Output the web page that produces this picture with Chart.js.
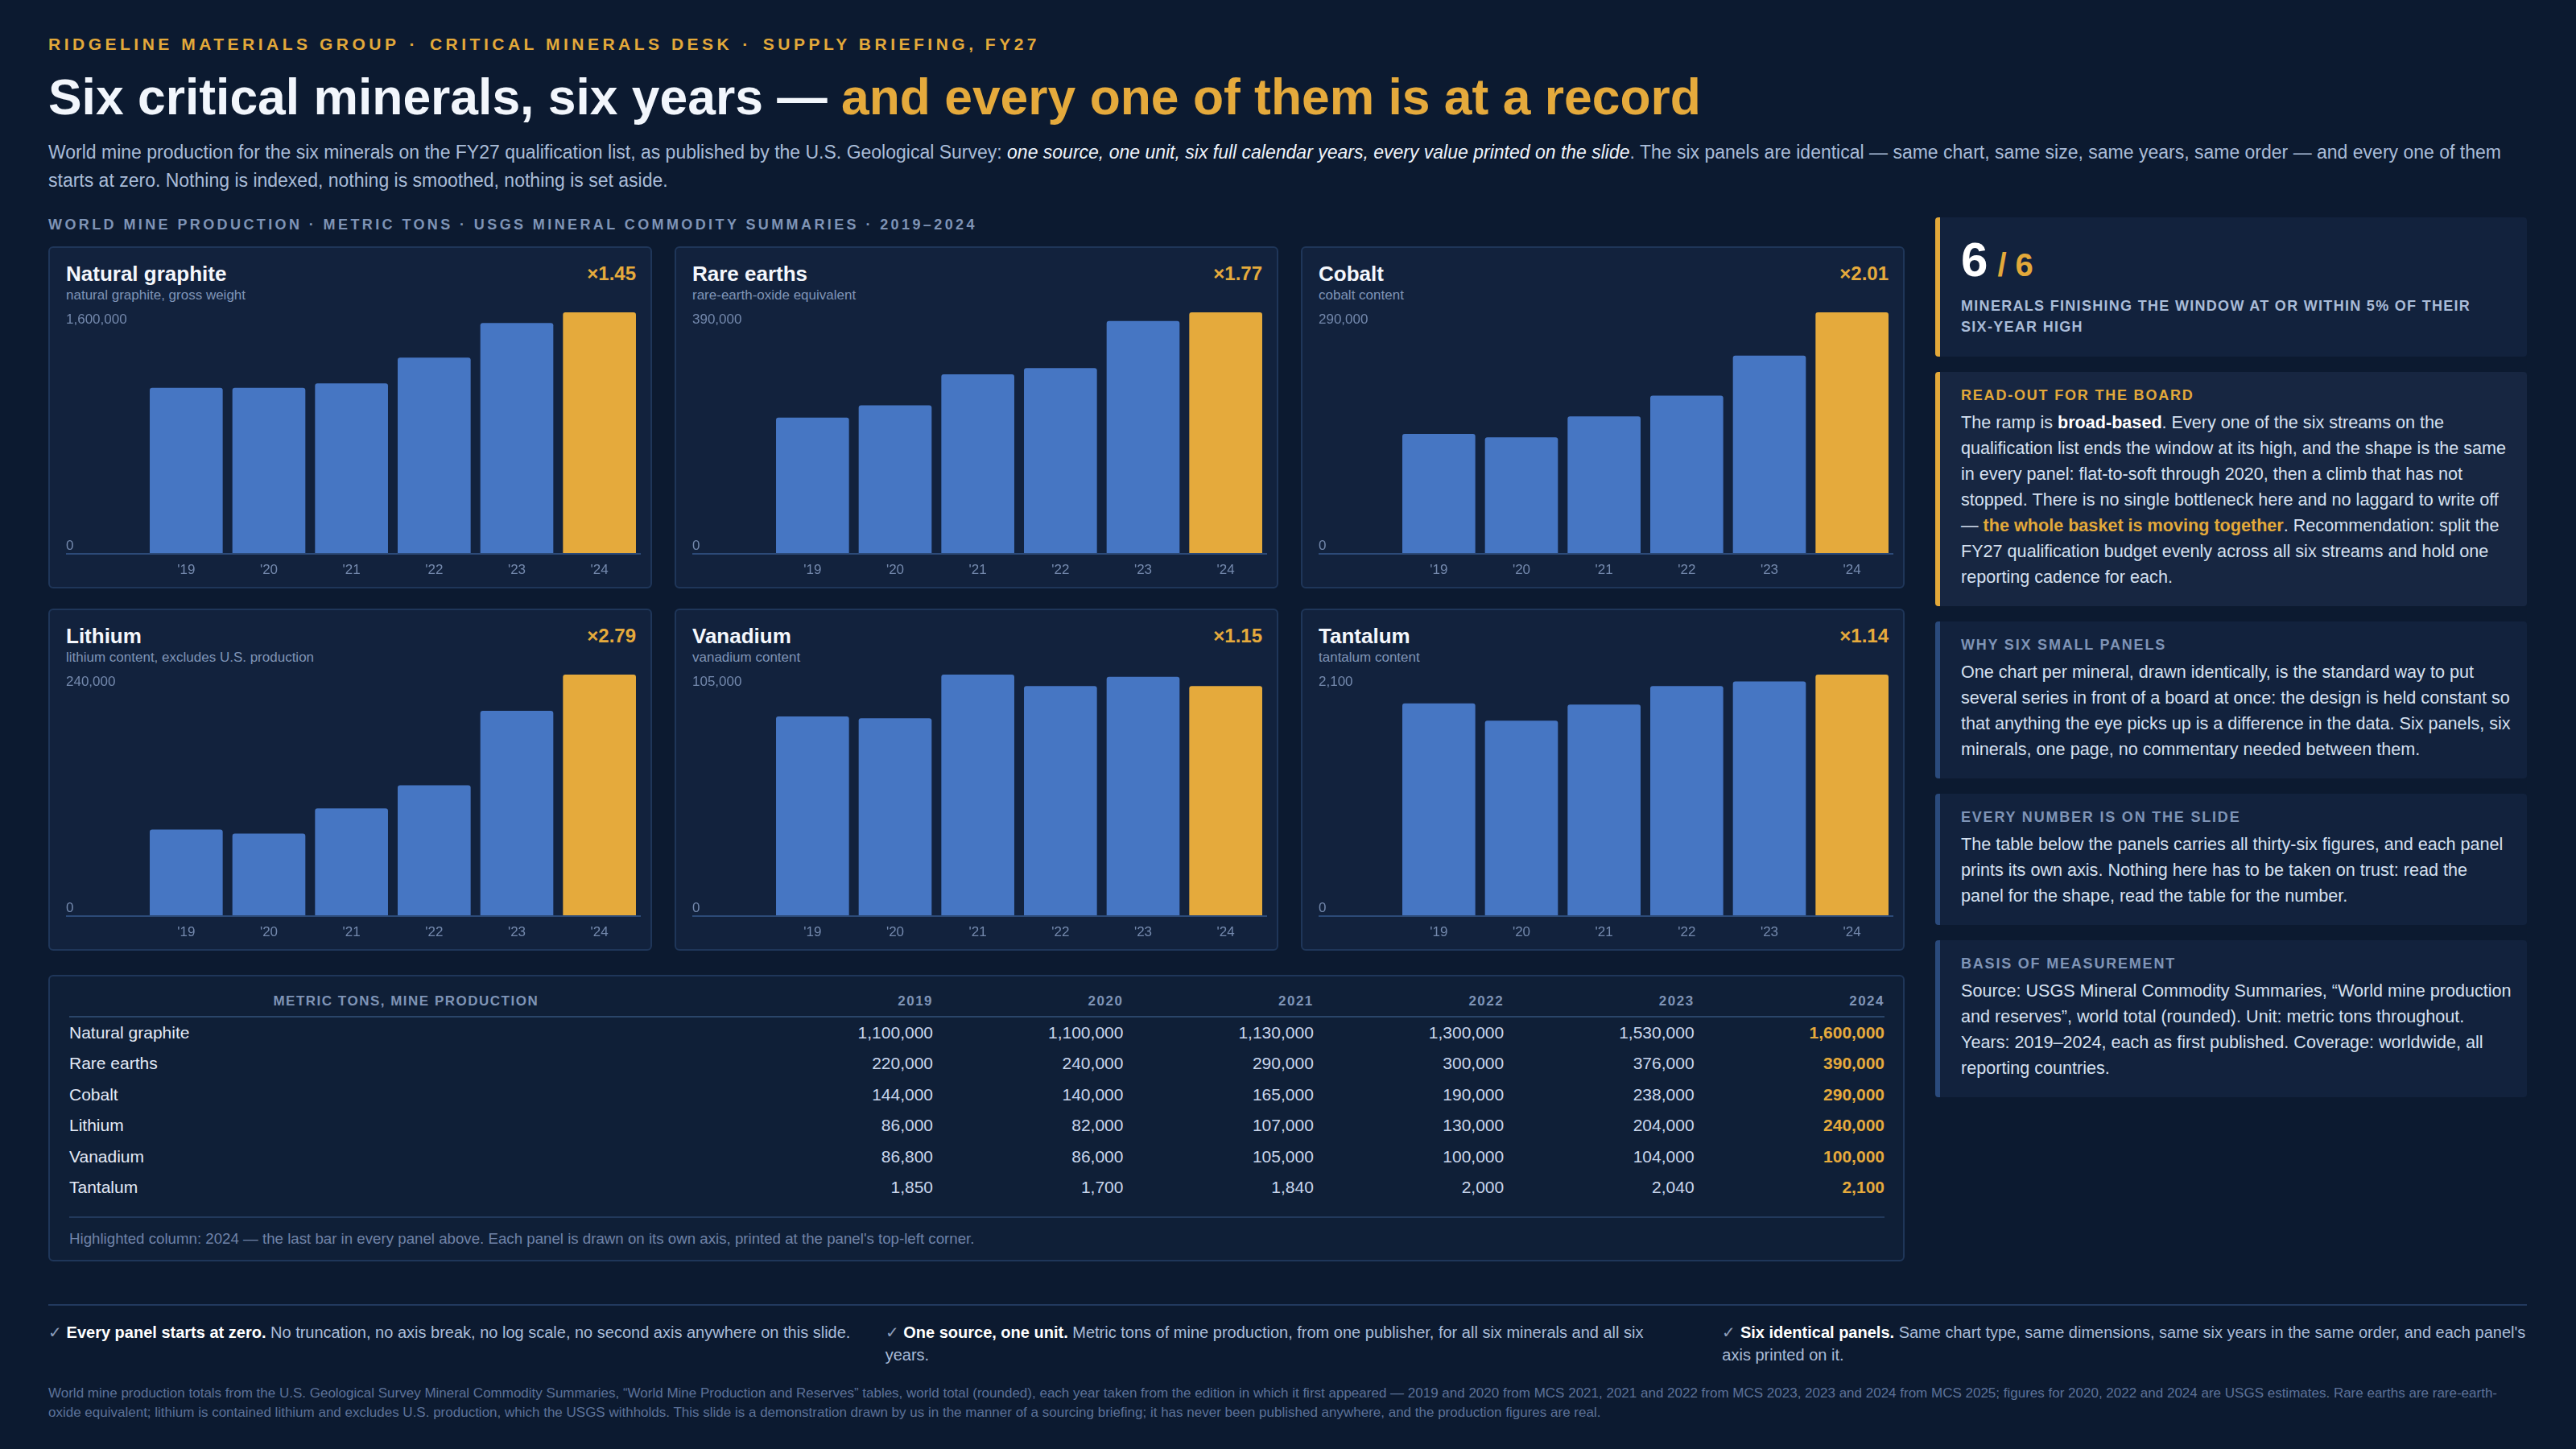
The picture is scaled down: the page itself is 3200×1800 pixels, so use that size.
<!DOCTYPE html>
<html lang="en">
<head>
<meta charset="utf-8">
<title>Six critical minerals, six years</title>
<script src="https://cdn.jsdelivr.net/npm/chart.js@4.4.1/dist/chart.umd.min.js"></script>
<style>
  * { box-sizing: border-box; margin: 0; padding: 0; }
  html, body { width: 3200px; height: 1800px; background: #0c1a30; overflow: hidden; }
  body { position: relative; font-family: "Liberation Sans", Arial, sans-serif; color: #e8eef8; }

  .kicker { position: absolute; left: 60px; top: 42px; font-size: 21px; line-height: 26px; font-weight: 700; letter-spacing: 4.5px; color: #e3a93a; }
  .kicker b { font-weight: 700; padding: 0 14px 0 12px; }
  h1 { position: absolute; left: 60px; top: 86px; font-size: 62.4px; line-height: 70px; font-weight: 700; color: #f2f6fc; }
  h1 span { color: #e5aa3c; }
  .lede { position: absolute; left: 60px; top: 172px; width: 3090px; font-size: 23px; line-height: 35px; color: #a9bcd8; }
  .lede em { color: #eef3fb; }
  .section { position: absolute; left: 60px; top: 268px; font-size: 18px; line-height: 22px; font-weight: 700; letter-spacing: 3.4px; color: #7f94b6; }

  .grid { position: absolute; left: 60px; top: 306px; display: grid; grid-template-columns: repeat(3, 750px); grid-template-rows: repeat(2, 425px); column-gap: 28px; row-gap: 25px; }
  .panel { position: relative; background: #12223d; border: 2px solid #1f3659; border-radius: 6px; }
  .panel .name { position: absolute; left: 20px; top: 17px; font-size: 26px; line-height: 30px; font-weight: 700; color: #f4f7fc; }
  .panel .basis { position: absolute; left: 20px; top: 49px; font-size: 17px; line-height: 20px; color: #7f94b6; }
  .panel .mult { position: absolute; right: 18px; top: 18px; font-size: 24px; line-height: 28px; font-weight: 700; color: #e5aa3c; }
  .panel .plot { position: absolute; left: 20px; top: 74px; width: 714px; height: 340px; }

  .tablebox { position: absolute; left: 60px; top: 1211px; width: 2306px; height: 356px; background: #0f1f37; border: 2px solid #1f3659; border-radius: 6px; padding: 18px 23px 0 24px; }
  table { width: 100%; border-collapse: collapse; table-layout: fixed; }
  th { font-size: 17px; line-height: 26px; font-weight: 700; letter-spacing: 1.5px; color: #7f94b6; padding: 0 0 5px; border-bottom: 2px solid #2a4569; text-align: right; }
  th:first-child { text-align: center; }
  td { font-size: 21px; line-height: 26px; padding: 6px 0 6.4px; color: #c9d6ec; text-align: right; }
  td:first-child { text-align: left; color: #e3eaf6; }
  td.hi { color: #e5aa3c; font-weight: 700; }
  .tnote { margin-top: 17px; border-top: 2px solid #22395c; padding-top: 14px; font-size: 18.7px; line-height: 24px; color: #7083a8; }

  .side { position: absolute; left: 2404px; top: 270px; width: 735px; display: flex; flex-direction: column; gap: 19px; }
  .card { background: #12223d; border-left: 6px solid #2a4a7c; border-radius: 4px; padding: 18px 19px 20px 26px; }
  .card.gold { border-left-color: #e3a93a; }
  .card.read { background: #172641; }
  .card.stat { padding: 23px 19px 24px 26px; }
  .big { height: 60px; font-size: 60px; line-height: 60px; font-weight: 700; color: #ffffff; white-space: nowrap; }
  .big span { font-size: 40px; line-height: 40px; color: #e3a93a; margin-left: 12px; }
  .statlabel { margin-top: 14px; font-size: 18px; line-height: 26px; font-weight: 700; letter-spacing: 1.3px; color: #a9bcd8; }
  .nowrap { white-space: nowrap; }
  .card h3 { font-size: 18px; line-height: 22px; font-weight: 700; letter-spacing: 1.8px; color: #7f94b6; }
  .card.read h3 { color: #e3a93a; }
  .card p { margin-top: 7px; font-size: 21.6px; line-height: 32px; color: #d5e0f0; }
  .card p b { color: #ffffff; }
  .card p b.gold { color: #e3a93a; }

  .rule { position: absolute; left: 60px; top: 1620px; width: 3079px; height: 2px; background: #22395e; }
  .checks { position: absolute; left: 60px; top: 1641px; width: 3079px; display: grid; grid-template-columns: repeat(3, 1fr); column-gap: 40px; font-size: 20px; line-height: 28px; color: #a9bcd8; }
  .checks i { font-style: normal; color: #8a9bb8; }
  .checks b { color: #ffffff; }
  .source { position: absolute; left: 60px; top: 1719px; width: 3079px; font-size: 17px; line-height: 24px; color: #5d7299; }
</style>
</head>
<body>

<div class="kicker">RIDGELINE MATERIALS GROUP<b>·</b>CRITICAL MINERALS DESK<b>·</b>SUPPLY BRIEFING, FY27</div>
<h1>Six critical minerals, six years — <span>and every one of them is at a record</span></h1>
<div class="lede">World mine production for the six minerals on the FY27 qualification list, as published by the U.S. Geological Survey: <em>one source, one unit, six full calendar years, every value printed on the slide</em>. The six panels are identical — same chart, same size, same years, same order — and every one of them starts at zero. Nothing is indexed, nothing is smoothed, nothing is set aside.</div>
<div class="section">WORLD MINE PRODUCTION · METRIC TONS · USGS MINERAL COMMODITY SUMMARIES · 2019–2024</div>

<div class="grid" id="grid"></div>

<div class="tablebox">
  <table id="tbl"></table>
  <div class="tnote">Highlighted column: 2024 — the last bar in every panel above. Each panel is drawn on its own axis, printed at the panel's top-left corner.</div>
</div>

<div class="side">
  <div class="card gold stat">
    <div class="big">6<span>/ 6</span></div>
    <div class="statlabel">MINERALS FINISHING THE WINDOW AT OR WITHIN 5% OF THEIR <span class="nowrap">SIX-YEAR</span> HIGH</div>
  </div>
  <div class="card gold read">
    <h3>READ-OUT FOR THE BOARD</h3>
    <p>The ramp is <b>broad-based</b>. Every one of the six streams on the qualification list ends the window at its high, and the shape is the same in every panel: flat-to-soft through 2020, then a climb that has not stopped. There is no single bottleneck here and no laggard to write off — <b class="gold">the whole basket is moving together</b>. Recommendation: split the FY27 qualification budget evenly across all six streams and hold one reporting cadence for each.</p>
  </div>
  <div class="card">
    <h3>WHY SIX SMALL PANELS</h3>
    <p>One chart per mineral, drawn identically, is the standard way to put several series in front of a board at once: the design is held constant so that anything the eye picks up is a difference in the data. Six panels, six minerals, one page, no commentary needed between them.</p>
  </div>
  <div class="card">
    <h3>EVERY NUMBER IS ON THE SLIDE</h3>
    <p>The table below the panels carries all thirty-six figures, and each panel prints its own axis. Nothing here has to be taken on trust: read the panel for the shape, read the table for the number.</p>
  </div>
  <div class="card">
    <h3>BASIS OF MEASUREMENT</h3>
    <p>Source: USGS Mineral Commodity Summaries, “World mine production and reserves”, world total (rounded). Unit: metric tons throughout. Years: 2019–2024, each as first published. Coverage: worldwide, all reporting countries.</p>
  </div>
</div>

<div class="rule"></div>
<div class="checks">
  <div><i>✓</i> <b>Every panel starts at zero.</b> No truncation, no axis break, no log scale, no second axis anywhere on this slide.</div>
  <div><i>✓</i> <b>One source, one unit.</b> Metric tons of mine production, from one publisher, for all six minerals and all six years.</div>
  <div><i>✓</i> <b>Six identical panels.</b> Same chart type, same dimensions, same six years in the same order, and each panel's axis printed on it.</div>
</div>
<div class="source">World mine production totals from the U.S. Geological Survey Mineral Commodity Summaries, “World Mine Production and Reserves” tables, world total (rounded), each year taken from the edition in which it first appeared — 2019 and 2020 from MCS 2021, 2021 and 2022 from MCS 2023, 2023 and 2024 from MCS 2025; figures for 2020, 2022 and 2024 are USGS estimates. Rare earths are rare-earth-oxide equivalent; lithium is contained lithium and excludes U.S. production, which the USGS withholds. This slide is a demonstration drawn by us in the manner of a sourcing briefing; it has never been published anywhere, and the production figures are real.</div>

<script>
// data, metric tons, USGS MCS
const years = ["2019", "2020", "2021", "2022", "2023", "2024"];
const yearTicks = ["'19", "'20", "'21", "'22", "'23", "'24"];
const minerals = ["Natural graphite", "Rare earths", "Cobalt", "Lithium", "Vanadium", "Tantalum"];
const basis = [
    "natural graphite, gross weight",
    "rare-earth-oxide equivalent",
    "cobalt content",
    "lithium content, excludes U.S. production",
    "vanadium content",
    "tantalum content",
];
const graphite = [1100000, 1100000, 1130000, 1300000, 1530000, 1600000];
const rareEarths = [220000, 240000, 290000, 300000, 376000, 390000];
const cobalt = [144000, 140000, 165000, 190000, 238000, 290000];
const lithium = [86000, 82000, 107000, 130000, 204000, 240000];
const vanadium = [86800, 86000, 105000, 100000, 104000, 100000];
const tantalum = [1850, 1700, 1840, 2000, 2040, 2100];

const series = [graphite, rareEarths, cobalt, lithium, vanadium, tantalum];

const BLUE = "#4676c3";
const GOLD = "#e5aa3c";
const TICK = "#7489ad";
const BASE = "#2c4a78";
const fmt = (v) => v.toLocaleString("en-US");

Chart.defaults.font.family = "'Liberation Sans', Arial, sans-serif";

const grid = document.getElementById("grid");

minerals.forEach((name, i) => {
    const vals = series[i];
    const top = Math.max(...vals);
    const mult = (vals[vals.length - 1] / vals[0]).toFixed(2);

    const panel = document.createElement("div");
    panel.className = "panel";
    panel.innerHTML =
        '<div class="name">' + name + '</div>' +
        '<div class="basis">' + basis[i] + '</div>' +
        '<div class="mult">×' + mult + '</div>' +
        '<div class="plot"><canvas></canvas></div>';
    grid.appendChild(panel);

    new Chart(panel.querySelector("canvas"), {
        type: "bar",
        data: {
            labels: yearTicks,
            datasets: [
                {
                    data: vals,
                    backgroundColor: vals.map((v, j) => (j === vals.length - 1 ? GOLD : BLUE)),
                    borderRadius: 3,
                    borderSkipped: "start",
                    categoryPercentage: 1,
                    barPercentage: 0.883,
                },
            ],
        },
        options: {
            responsive: true,
            maintainAspectRatio: false,
            animation: false,
            layout: { padding: { top: 6, left: 0, right: 0, bottom: 0 } },
            plugins: { legend: { display: false }, tooltip: { enabled: false } },
            scales: {
                x: {
                    grid: { display: false, drawTicks: false },
                    border: { display: false },
                    ticks: { color: TICK, font: { size: 17 }, padding: 10 },
                    afterFit: (s) => { s.height = 34; },
                },
                y: {
                    min: 0,
                    max: top,
                    border: { display: false },
                    // only the zero line is drawn, and its tick runs under the axis labels
                    grid: {
                        color: (c) => (c.tick && c.tick.value === 0 ? BASE : "rgba(0,0,0,0)"),
                        lineWidth: 2,
                        tickLength: 98,
                        z: 1,
                    },
                    ticks: {
                        color: TICK,
                        font: { size: 17, lineHeight: 1.1 },
                        crossAlign: "far",
                        padding: 0,
                        autoSkip: false,
                        // max sits just under the top, zero just above the baseline
                        callback: (v) => (v === 0 ? ["0", ""] : ["", fmt(v)]),
                    },
                    afterBuildTicks: (s) => { s.ticks = [{ value: 0 }, { value: top }]; },
                    afterFit: (s) => { s.width = 98; s.paddingTop = 0; s.paddingBottom = 0; },
                },
            },
        },
    });
});

// table, same arrays
let html = '<colgroup><col>' + years.map(() => '<col style="width:236.4px">').join("") + '</colgroup>';
html += "<thead><tr><th>METRIC TONS, MINE PRODUCTION</th>" + years.map((y) => "<th>" + y + "</th>").join("") + "</tr></thead><tbody>";
minerals.forEach((name, i) => {
    html += "<tr><td>" + name + "</td>" +
        series[i].map((v, j) => '<td' + (j === years.length - 1 ? ' class="hi"' : "") + ">" + fmt(v) + "</td>").join("") +
        "</tr>";
});
html += "</tbody>";
document.getElementById("tbl").innerHTML = html;
</script>
</body>
</html>
